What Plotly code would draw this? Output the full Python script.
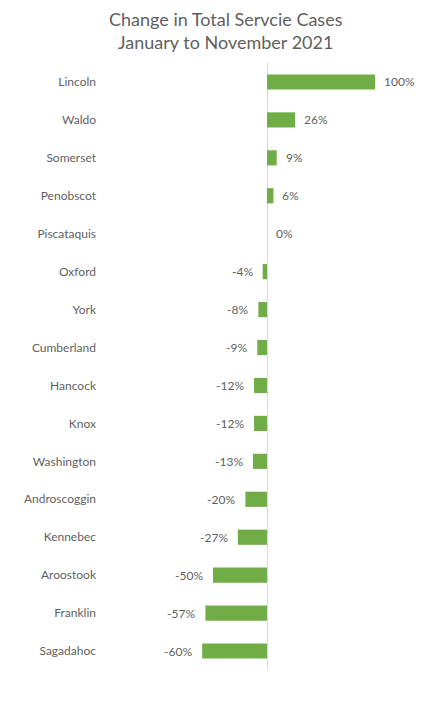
import plotly.graph_objects as go

counties = ["Lincoln", "Waldo", "Somerset", "Penobscot", "Piscataquis", "Oxford", "York",
            "Cumberland", "Hancock", "Knox", "Washington", "Androscoggin", "Kennebec",
            "Aroostook", "Franklin", "Sagadahoc"]
change_pct = [100, 26, 9, 6, 0, -4, -8, -9, -12, -12, -13, -20, -27, -50, -57, -60]

values = [v / 100 for v in change_pct]
GREEN = "#70AD47"
TEXT = "#5F5F5F"
FONT = "Lato, Carlito, 'Open Sans', sans-serif"

fig = go.Figure(go.Bar(
    x=values, y=counties, orientation="h",
    marker=dict(color=GREEN, line=dict(width=0)),
    hoverinfo="skip",
))

annotations = []
for c, v, p in zip(counties, values, change_pct):
    annotations.append(dict(
        x=v, y=c, xref="x", yref="y", text=f"{p}%", showarrow=False,
        xanchor="left" if p >= 0 else "right",
        xshift=7 if p >= 0 else -8,
        font=dict(family=FONT, size=12, color=TEXT),
    ))

# page body has an 8px default margin; size the figure so it fits the window
W, H = 417, 696
top, bottom = 55, 34
left, right = 92, 402
zero_px, px_per_unit = 259, 108
xmin = -(zero_px - left) / px_per_unit
xmax = (right - zero_px) / px_per_unit
plot_h = H - top - bottom

annotations.append(dict(
    text="Change in Total Servcie Cases<br>January to November 2021",
    xref="paper", yref="paper",
    x=(217.5 - left) / (right - left), y=1 + (top - 22) / plot_h,
    xanchor="center", yanchor="middle", showarrow=False,
    font=dict(family=FONT, size=18, color=TEXT),
))

fig.update_layout(
    width=W, height=H,
    margin=dict(l=left, r=W - right, t=top, b=bottom, autoexpand=False),
    paper_bgcolor="white", plot_bgcolor="white",
    bargap=0.6,
    showlegend=False,
    xaxis=dict(range=[xmin, xmax], showgrid=False, showticklabels=False,
               zeroline=True, zerolinecolor="#D9D9D9", zerolinewidth=1,
               showline=False, fixedrange=True),
    yaxis=dict(autorange="reversed", showgrid=False, showline=False, ticks="",
               tickfont=dict(family=FONT, size=12, color=TEXT),
               ticklabelstandoff=3, fixedrange=True, automargin=False),
    annotations=annotations,
)

fig.write_html("out.html")
